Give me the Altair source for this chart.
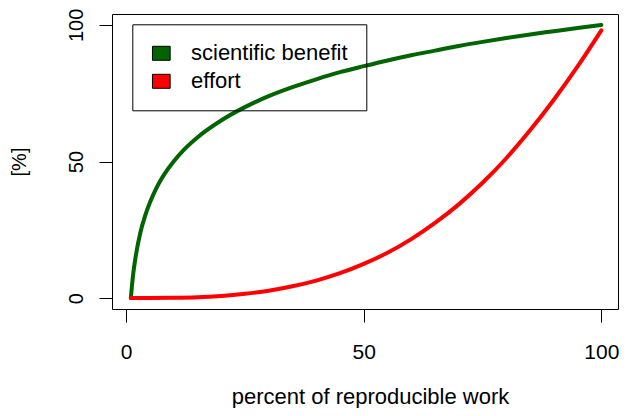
import altair as alt
import pandas as pd

# ---- data ----
series_names = ["scientific benefit", "effort"]
series_colors = ["#006400", "#FF0000"]

x_benefit = [1, 1.5, 2, 3, 4, 5, 6, 7, 8, 10, 12, 15, 20, 25, 30, 35, 40, 45,
             50, 55, 60, 65, 70, 75, 80, 85, 90, 95, 100]
y_benefit = [0, 8.8, 15, 23.9, 30.1, 34.9, 38.9, 42.3, 45.2, 50, 54, 58.8, 65,
             69.9, 73.9, 77.2, 80.1, 82.7, 84.9, 87, 88.9, 90.6, 92.3, 93.8,
             95.2, 96.5, 97.7, 98.9, 100]

x_effort = [1, 10, 15, 20, 25, 30, 35, 40, 45, 50, 55, 60, 65, 70, 75, 80, 85,
            90, 95, 100]
y_effort = [0, 0.1, 0.3, 0.8, 1.6, 2.7, 4.3, 6.4, 9.1, 12.5, 16.6, 21.6, 27.5,
            34.3, 42.2, 51.2, 61.4, 72.6, 84.8, 98]

x_ticks = [0, 50, 100]
y_ticks = [0, 50, 100]

rows = []
for xv, yv in zip(x_benefit, y_benefit):
    rows.append({"x": xv, "y": yv, "series": series_names[0], "o": 0})
for xv, yv in zip(x_effort, y_effort):
    rows.append({"x": xv, "y": yv, "series": series_names[1], "o": 1})
df = pd.DataFrame(rows)

FONT = "Liberation Sans"

color_scale = alt.Scale(domain=series_names, range=series_colors)

x_enc = alt.X(
    "x:Q",
    scale=alt.Scale(domain=[-2.96, 103.5], nice=False, zero=False),
    axis=alt.Axis(
        values=x_ticks, title="percent of reproducible work", grid=False,
        domain=False, tickSize=13, tickColor="black", tickWidth=1,
        labelFont=FONT, labelFontSize=21, labelColor="black",
        labelBaseline="alphabetic", labelPadding=36, labelFlush=False,
        labelOverlap=False,
        titleFont=FONT, titleFontSize=22, titleFontWeight="normal",
        titleColor="black", titleX=258, titleY=94.5,
        titleBaseline="alphabetic", titleAlign="center",
    ),
)
y_enc = alt.Y(
    "y:Q",
    scale=alt.Scale(domain=[-4, 104], nice=False, zero=False),
    axis=alt.Axis(
        values=y_ticks, title="[%]", grid=False, domain=False,
        tickSize=13, tickColor="black", tickWidth=1,
        labelFont=FONT, labelFontSize=20, labelColor="black",
        labelAngle=270, labelAlign="center", labelBaseline="alphabetic",
        labelPadding=17, labelFlush=False, labelOverlap=False,
        titleFont=FONT, titleFontSize=20, titleFontWeight="normal",
        titleColor="black", titleAngle=270, titleX=-86.4, titleY=147.5,
        titleBaseline="alphabetic", titleAlign="center",
    ),
)

lines = alt.Chart(df).mark_line(
    strokeWidth=4, strokeCap="round", strokeJoin="round", interpolate="monotone"
).encode(
    x=x_enc,
    y=y_enc,
    color=alt.Color("series:N", scale=color_scale, legend=None),
    order=alt.Order("o:Q"),
    detail="series:N",
)

legend_pts = alt.Chart(df).mark_point(filled=True, opacity=0).encode(
    x="x:Q",
    y="y:Q",
    color=alt.Color(
        "series:N", scale=color_scale,
        legend=alt.Legend(
            orient="none", legendX=20.3, legendY=10.3, title=None,
            symbolType="M-1,-0.79L1,-0.79L1,0.79L-1,0.79Z", symbolSize=313,
            symbolStrokeColor="black", symbolStrokeWidth=1, symbolOpacity=1,
            labelFont=FONT, labelFontSize=22, labelColor="black",
            labelOffset=18.7, padding=18, rowPadding=6,
            strokeColor="black", labelLimit=0,
        ),
    ),
)

chart = alt.layer(lines, legend_pts).resolve_legend(color="independent").properties(
    width=506, height=295,
    autosize=alt.AutoSizeParams(type="none"),
    padding={"left": 104, "top": 6, "right": 2, "bottom": 99},
    background="white",
).configure_view(stroke="black", strokeWidth=1)

chart.save("out.html", embed_options={"renderer": "svg", "actions": False})
